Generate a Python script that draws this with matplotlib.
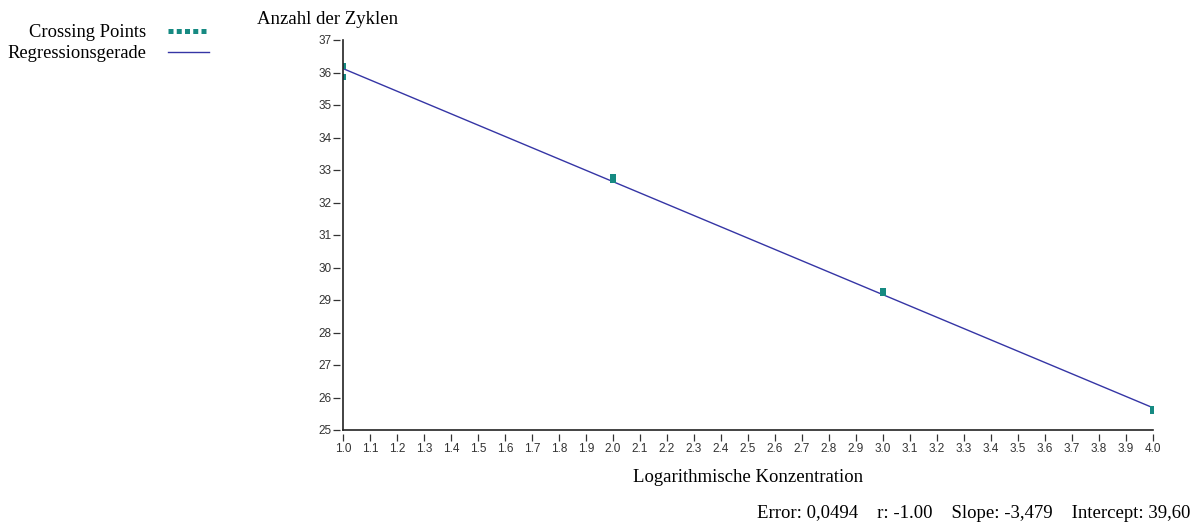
import numpy as np
import matplotlib
matplotlib.use('Agg')
import matplotlib.pyplot as plt
from matplotlib.lines import Line2D
from matplotlib.ticker import MultipleLocator, FormatStrFormatter

# standard series: log concentration vs. crossing point (cycles)
log_conc = [1.0, 1.0, 2.0, 2.0, 3.0, 3.0, 4.0, 4.0]
cycles = [36.2, 35.85, 32.8, 32.7, 29.27, 29.22, 25.65, 25.6]

error = 0.0494
r_value = -1.00
slope = -3.479
intercept = 39.60

teal = '#168a82'
blue = '#3535a5'
serif = ['Liberation Serif', 'DejaVu Serif']
sans = ['Liberation Sans', 'DejaVu Sans']

fig = plt.figure(figsize=(11.98, 5.26), dpi=100)
ax = fig.add_axes([343 / 1198, 1 - 430 / 526, 810 / 1198, 390 / 526])

xs = np.array([1.0, 4.0])
ax.plot(xs, slope * xs + intercept, color=blue, lw=1.0, zorder=2)
ax.scatter(log_conc, cycles, marker='s', s=24, color=teal, zorder=3, linewidths=0)

ax.set_xlim(1.0, 4.0)
ax.set_ylim(25, 37)
ax.xaxis.set_major_locator(MultipleLocator(0.1))
ax.xaxis.set_major_formatter(FormatStrFormatter('%.1f'))
ax.yaxis.set_major_locator(MultipleLocator(1))

# axis lines drawn separately, ticks sit a little off them
for s in ['top', 'right', 'left', 'bottom']:
    ax.spines[s].set_visible(False)
ax.spines['bottom'].set_position(('outward', 3))
ax.spines['left'].set_position(('outward', 2))
ax.axhline(25, color='#222222', lw=1.2, clip_on=False, zorder=4)
ax.axvline(1.0, color='#222222', lw=1.2, clip_on=False, zorder=4)

ax.tick_params(axis='both', direction='out', length=5, width=0.9, color='#333333',
               labelsize=8.5, pad=1.5)
for lbl in ax.get_xticklabels() + ax.get_yticklabels():
    lbl.set_family(sans)
    lbl.set_color('#333333')

fig.text(257 / 1198, 1 - 19 / 526, 'Anzahl der Zyklen', family=serif, fontsize=13.5,
         ha='left', va='center')
fig.text(748 / 1198, 1 - 477 / 526, 'Logarithmische Konzentration', family=serif,
         fontsize=13.5, ha='center', va='center')
fig.text(1190 / 1198, 1 - 513 / 526,
         'Error: %s    r: %.2f    Slope: %s    Intercept: %s' % (
             ('%.4f' % error).replace('.', ','), r_value,
             ('%.3f' % slope).replace('.', ','), ('%.2f' % intercept).replace('.', ',')),
         family=serif, fontsize=13.5, ha='right', va='center')

handles = [Line2D([], [], color=teal, lw=3.6, ls=(0, (1, 0.65))),
           Line2D([], [], color=blue, lw=1)]
leg = fig.legend(handles, ['Crossing Points', 'Regressionsgerade'],
                 loc='upper left', bbox_to_anchor=(0 / 1198, 1 - 17 / 526),
                 markerfirst=False, frameon=False, handlelength=2.22,
                 handletextpad=1.2, labelspacing=0.2, borderaxespad=0,
                 prop={'family': serif, 'size': 13.3})
for t in leg.get_texts():
    t.set_ha('right')

fig.savefig('out.png', dpi=100)
